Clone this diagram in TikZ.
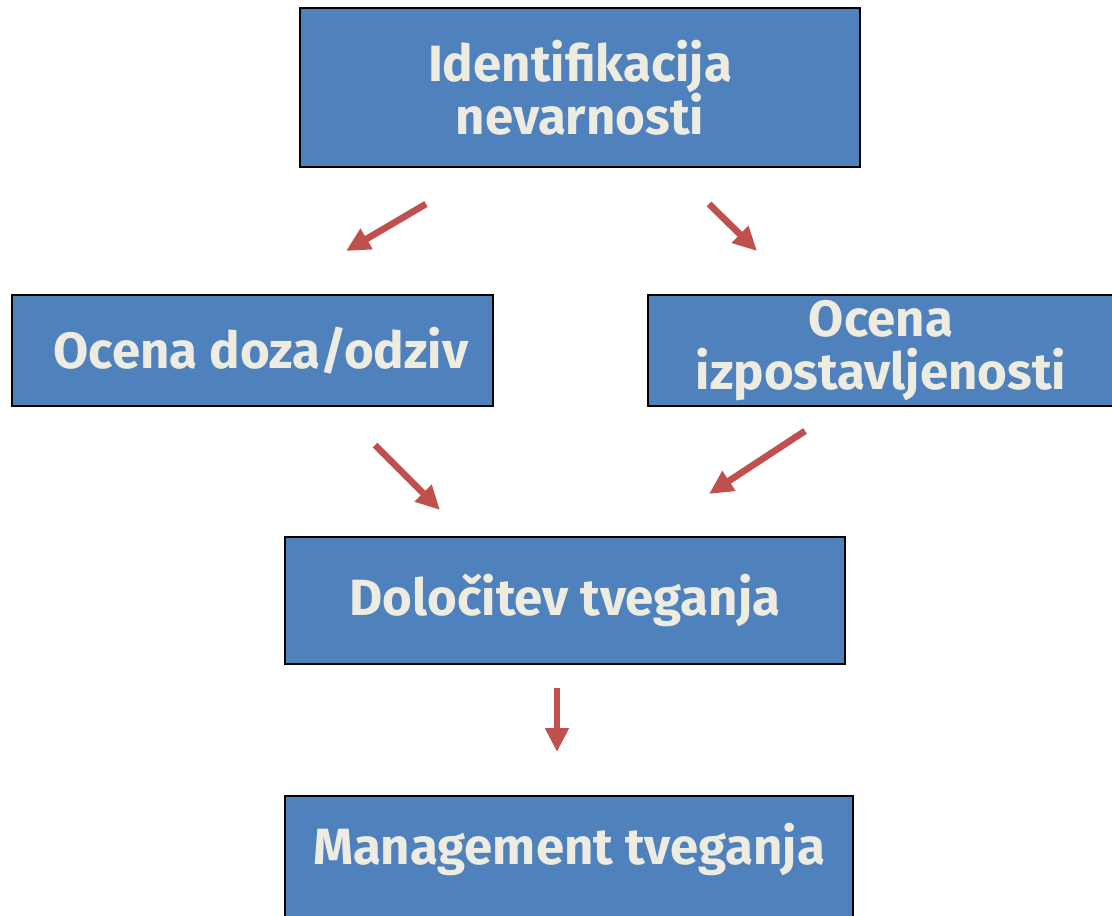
\documentclass[tikz,border=0pt]{standalone}
\usepackage{fontspec}
\setmainfont{Fira Sans}
\usetikzlibrary{arrows.meta}

\definecolor{boxblue}{HTML}{4F81BD}
\definecolor{boxtext}{HTML}{EEECE1}
\definecolor{arrowred}{HTML}{C0504D}

\begin{document}
\begin{tikzpicture}[
    stage/.style={draw=black, line width=0.6pt, fill=boxblue, text=boxtext,
                  font=\fontsize{14.5}{15}\selectfont\bfseries, inner sep=0pt},
    flow/.style={arrowred, line width=1.9pt,
                 -{Triangle[width=6.4pt, length=6.8pt]}}
]

    % --- Frame (keeps the page size) ---
    \useasboundingbox (0,0) rectangle (11.12,-9.16);

    % --- Boxes ---
    \node[stage, align=center, minimum width=5.60cm, minimum height=1.59cm]
        (hazard) at (5.80,-0.875) {Identifikacija\\nevarnosti};
    \node[stage, minimum width=4.81cm, minimum height=1.11cm]
        (dose) at (2.525,-3.505) {\hspace*{0.17cm}Ocena doza/odziv};
    \node[stage, align=center, minimum width=4.66cm, minimum height=1.11cm]
        (exposure) at (8.81,-3.505) {Ocena\\izpostavljenosti};
    \node[stage, minimum width=5.60cm, minimum height=1.27cm]
        (risk) at (5.65,-6.005) {Določitev tveganja};
    % bottom box runs off the page, text sits high
    \node[stage, anchor=north, minimum width=5.68cm, text height=0.68cm, text depth=0.66cm]
        (mgmt) at (5.69,-7.95) {Management tveganja};

    % --- Arrow ends ---
    \coordinate (HazL) at (4.26,-2.04);
    \coordinate (DoseIn) at (3.46,-2.51);
    \coordinate (HazR) at (7.09,-2.04);
    \coordinate (ExpIn) at (7.57,-2.51);
    \coordinate (DoseOut) at (3.75,-4.45);
    \coordinate (RiskInL) at (4.40,-5.10);
    \coordinate (ExpOut) at (8.05,-4.31);
    \coordinate (RiskInR) at (7.09,-4.94);
    \coordinate (RiskOut) at (5.57,-6.88);
    \coordinate (MgmtIn) at (5.57,-7.52);

    % --- Arrows ---
    \draw[flow] (HazL) -- (DoseIn);
    \draw[flow] (HazR) -- (ExpIn);
    \draw[flow] (DoseOut) -- (RiskInL);
    \draw[flow] (ExpOut) -- (RiskInR);
    \draw[flow] (RiskOut) -- (MgmtIn);

\end{tikzpicture}
\end{document}
